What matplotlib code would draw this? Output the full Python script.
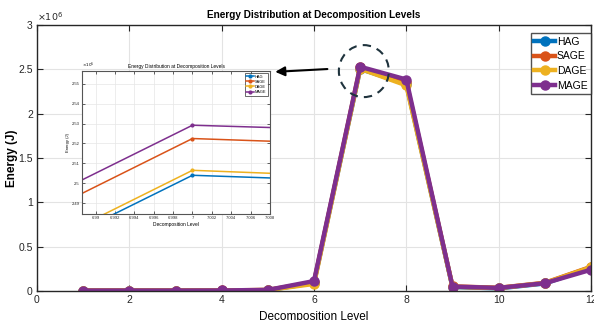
import matplotlib
matplotlib.use("Agg")
import matplotlib.pyplot as plt
from matplotlib.patches import Ellipse
from matplotlib.transforms import ScaledTranslation
from matplotlib.ticker import FuncFormatter
import numpy as np

plt.rcParams['font.family'] = ['Liberation Sans', 'DejaVu Sans']

# Energy (in units of 1e6 J) per decomposition level for each method
levels = [1, 2, 3, 4, 5, 6, 7, 8, 9, 10, 11, 12]
hag  = [0.004, 0.004, 0.005, 0.005, 0.010, 0.090, 2.5040, 2.335, 0.045, 0.030, 0.085, 0.262]
sage = [0.005, 0.005, 0.005, 0.006, 0.012, 0.098, 2.5225, 2.354, 0.052, 0.036, 0.092, 0.272]
dage = [0.004, 0.004, 0.005, 0.005, 0.011, 0.080, 2.5065, 2.319, 0.048, 0.033, 0.090, 0.268]
mage = [0.005, 0.005, 0.005, 0.006, 0.012, 0.112, 2.5292, 2.385, 0.050, 0.035, 0.088, 0.240]

series_names = ['HAG', 'SAGE', 'DAGE', 'MAGE']
series_vals = [hag, sage, dage, mage]
colors = ['#0072BD', '#D95319', '#EDB120', '#7E2F8E']

main_xticks = [0, 2, 4, 6, 8, 10, 12]
main_yticks = [0, 0.5, 1, 1.5, 2, 2.5, 3]
zoom_xticks = [6.99, 6.992, 6.994, 6.996, 6.998, 7.0, 7.002, 7.004, 7.006, 7.008]
zoom_yticks = [2.49, 2.50, 2.51, 2.52, 2.53, 2.54, 2.55]

SCALE = 1e6
fmt = FuncFormatter(lambda v, p: '%g' % round(v / SCALE, 6))

fig = plt.figure(figsize=(5.94, 3.2), dpi=100)
ax = fig.add_axes([37 / 594, 1 - 291 / 320, 554 / 594, 266 / 320])

x = np.array(levels)
for name, vals, c in zip(series_names, series_vals, colors):
    ax.plot(x, np.array(vals) * SCALE, color=c, lw=3.2, marker='o', ms=6.5,
            label=name, solid_joinstyle='round')

ax.set_xlim(0, 12)
ax.set_ylim(0, 3 * SCALE)
ax.set_xticks(main_xticks)
ax.set_yticks([v * SCALE for v in main_yticks])
ax.yaxis.set_major_formatter(fmt)
ax.grid(True, color='#e3e3e3', lw=0.8)
ax.set_axisbelow(True)
ax.tick_params(direction='in', top=True, right=True, labelsize=7.5, length=4,
               width=0.8, colors='#262626', pad=3)
for s in ax.spines.values():
    s.set_color('#262626')
    s.set_linewidth(1.0)
ax.set_title('Energy Distribution at Decomposition Levels', fontsize=7.2,
             fontweight='semibold', pad=5)
ax.set_xlabel('Decomposition Level', fontsize=8.5, labelpad=4)
ax.set_ylabel('Energy (J)', fontsize=8.5, fontweight='bold', labelpad=0.5)
ax.text(0.0, 1.008, r'$\times10^{6}$', transform=ax.transAxes, fontsize=6.8,
        ha='left', va='bottom', color='#262626')

leg = ax.legend(loc='upper right', bbox_to_anchor=(1.0, 1 - 8 / 266),
                borderaxespad=0.0, fontsize=7.5, frameon=True, fancybox=False,
                edgecolor='#262626', handlelength=2.0, borderpad=0.35,
                labelspacing=0.45, handletextpad=0.15)
leg.get_frame().set_linewidth(1.0)

# dashed circle highlighting the peak region
circ_tr = fig.dpi_scale_trans + ScaledTranslation(7.08, 2.48 * SCALE, ax.transData)
ax.add_patch(Ellipse((0, 0), 0.50, 0.52, transform=circ_tr, fill=False,
                     ls=(0, (4, 3)), lw=1.5, ec='#1f333d', zorder=5))
ax.annotate('', xy=(5.1, 2.47 * SCALE), xytext=(6.35, 2.505 * SCALE),
            arrowprops=dict(arrowstyle='-|>', color='black', lw=1.5,
                            mutation_scale=14), zorder=6)

# zoomed view around level 7
axin = fig.add_axes([82 / 594, 1 - 214 / 320, 188 / 594, 143 / 320])
for name, vals, c in zip(series_names, series_vals, colors):
    axin.plot(x, np.array(vals) * SCALE, color=c, lw=1.1, marker='o', ms=2,
              label=name)
axin.set_xlim(6.9886, 7.008)
axin.set_ylim(2.4845 * SCALE, 2.5565 * SCALE)
axin.set_xticks(zoom_xticks)
axin.xaxis.set_major_formatter(FuncFormatter(lambda v, p: '%g' % round(v, 4)))
axin.set_yticks([v * SCALE for v in zoom_yticks])
axin.yaxis.set_major_formatter(fmt)
axin.grid(True, color='#e6e6e6', lw=0.5)
axin.set_facecolor('white')
axin.tick_params(direction='in', top=True, right=True, labelsize=3, length=2,
                 width=0.5, pad=1.5, colors='#262626')
for s in axin.spines.values():
    s.set_color('#555555')
    s.set_linewidth(0.8)
axin.set_title('Energy Distribution at Decomposition Levels', fontsize=3.5, pad=2)
axin.set_xlabel('Decomposition Level', fontsize=3.5, labelpad=1.5)
axin.set_ylabel('Energy (J)', fontsize=3, labelpad=1.5)
axin.text(0.0, 1.005, r'$\times10^{6}$', transform=axin.transAxes, fontsize=3,
          ha='left', va='bottom')
lin = axin.legend(loc='upper right', fontsize=2.8, frameon=True, fancybox=False,
                  edgecolor='#262626', handlelength=2.0, borderpad=0.4,
                  labelspacing=0.3, handletextpad=0.3, borderaxespad=0.5)
lin.get_frame().set_linewidth(0.6)

fig.savefig('out.png', dpi=100)
